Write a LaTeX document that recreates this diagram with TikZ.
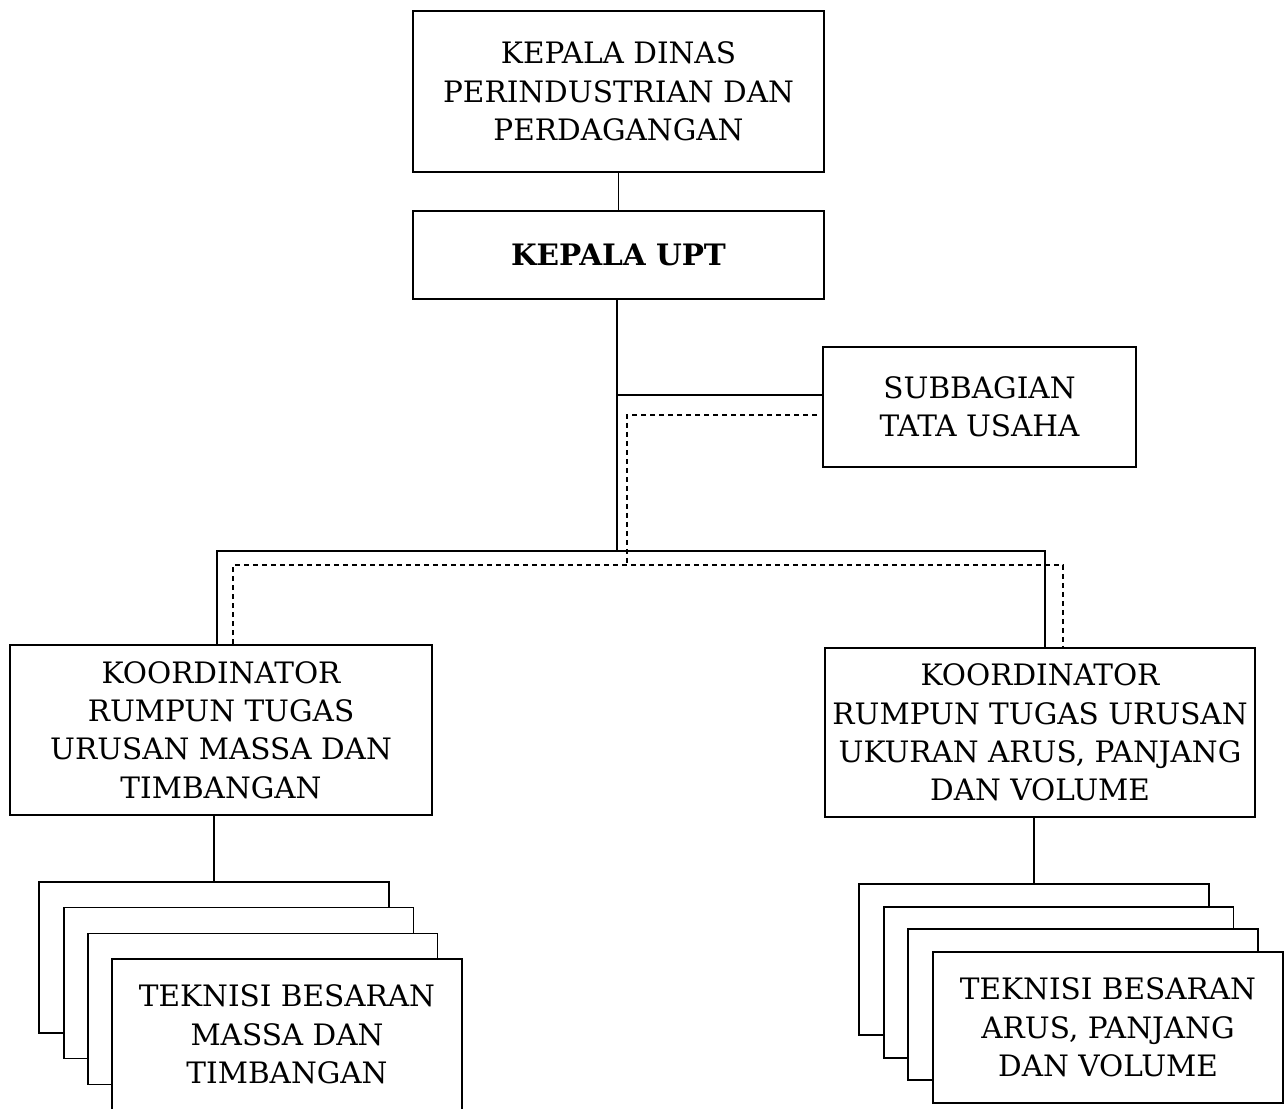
\documentclass[tikz,border=0pt]{standalone}
\usepackage{fontspec}
\setmainfont{DejaVu Serif}
\usepackage{tikz}
\usetikzlibrary{positioning,calc}
\tikzset{
    orgbox/.style={
        draw,
        line width=1.1pt,
        fill=white,
        align=center,
        inner sep=0pt,
        font=\fontsize{16.8}{21.8}\selectfont
    },
    % kotak tumpuk teknisi
    stackbox/.style={
        orgbox,
        minimum width=7cm,
        minimum height=3.02cm
    },
    solidline/.style={
        line width=1.1pt
    },
    dotline/.style={
        line width=1.1pt,
        dash pattern=on 0.1cm off 0.08cm
    }
}
\begin{document}
\begin{tikzpicture}[x=0.02cm,y=-0.02cm]
    \useasboundingbox (0,0) rectangle (1287,1108);

    \node[orgbox,minimum width=8.22cm,minimum height=3.22cm] (kadis) at (618.5,91.5)
        {KEPALA DINAS\\PERINDUSTRIAN DAN\\PERDAGANGAN};
    \node[orgbox,minimum width=8.22cm,minimum height=1.76cm,font=\fontsize{16.8}{21.8}\selectfont\bfseries] (kaupt) at (618.5,255)
        {KEPALA UPT};
    \node[orgbox,minimum width=6.26cm,minimum height=2.4cm] (subtu) at (979.5,407)
        {SUBBAGIAN\\TATA USAHA};
    \node[orgbox,minimum width=8.44cm,minimum height=3.4cm] (koorL) at (221,730)
        {KOORDINATOR\\RUMPUN TUGAS\\URUSAN MASSA DAN\\TIMBANGAN};
    \node[orgbox,minimum width=8.6cm,minimum height=3.38cm] (koorR) at (1040,732.5)
        {KOORDINATOR\\RUMPUN TUGAS URUSAN\\UKURAN ARUS, PANJANG\\DAN VOLUME};

    \node[stackbox] (tekLa) at (214,957.5) {};
    \node[stackbox] (tekLb) at (238.5,983) {};
    \node[stackbox] (tekLc) at (262.5,1009) {};
    \node[stackbox] (tekLd) at (287,1034.5) {TEKNISI BESARAN\\MASSA DAN\\TIMBANGAN};

    \node[stackbox] (tekRa) at (1034,959.5) {};
    \node[stackbox] (tekRb) at (1058.5,982.5) {};
    \node[stackbox] (tekRc) at (1083,1004.5) {};
    \node[stackbox] (tekRd) at (1108,1027.5) {TEKNISI BESARAN\\ARUS, PANJANG\\DAN VOLUME};

    \coordinate (hub) at (617,551);
    \coordinate (subin) at (823,395);
    \coordinate (busL) at (217,551);
    \coordinate (busR) at (1045,551);
    \coordinate (dotA) at (817,415);
    \coordinate (dotB) at (627,565);
    \coordinate (dotL) at (233,565);
    \coordinate (dotR) at (1063,565);

    \draw[solidline] (kadis.south) -- (kaupt.north);
    \draw[solidline] (hub |- kaupt.south) -- (hub);
    \draw[solidline] (hub |- subin) -- (subin);
    \draw[solidline] (busL |- koorL.north) -- (busL) -- (busR) -- (busR |- koorR.north);

    \draw[dotline] (dotA) -| (dotB);
    \draw[dotline] (dotL |- koorL.north) -- (dotL) -- (dotR) -- (dotR |- koorR.north);

    \draw[solidline] (koorL.south -| tekLa.north) -- (tekLa.north);
    \draw[solidline] (koorR.south -| tekRa.north) -- (tekRa.north);
\end{tikzpicture}
\end{document}
